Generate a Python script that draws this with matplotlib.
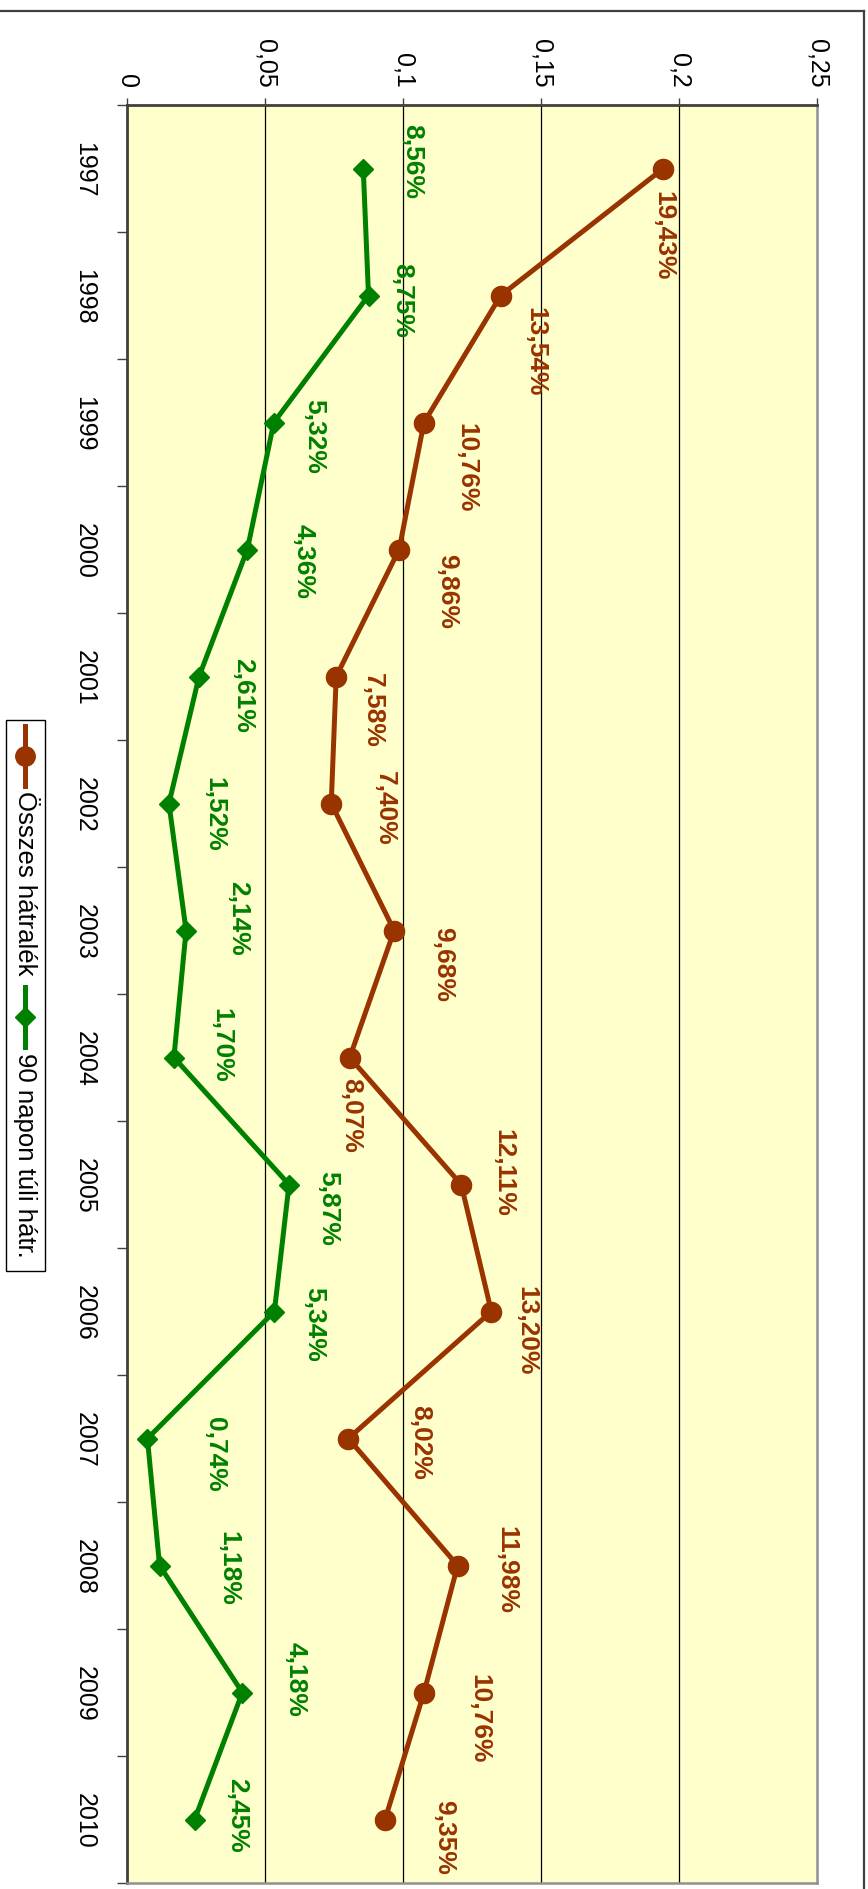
import numpy as np
import matplotlib
matplotlib.use('Agg')
import matplotlib.pyplot as plt
from matplotlib.lines import Line2D
from matplotlib.patches import Rectangle

plt.rcParams['font.family'] = ['Liberation Sans', 'DejaVu Sans']

years = ['1997', '1998', '1999', '2000', '2001', '2002', '2003',
         '2004', '2005', '2006', '2007', '2008', '2009', '2010']
total = [0.1943, 0.1354, 0.1076, 0.0986, 0.0758, 0.0740, 0.0968,
         0.0807, 0.1211, 0.1320, 0.0802, 0.1198, 0.1076, 0.0935]
over90 = [0.0856, 0.0875, 0.0532, 0.0436, 0.0261, 0.0152, 0.0214,
          0.0170, 0.0587, 0.0534, 0.0074, 0.0118, 0.0418, 0.0245]
value_ticks = [0, 0.05, 0.1, 0.15, 0.2, 0.25]
value_tick_labels = ['0', '0,05', '0,1', '0,15', '0,2', '0,25']
series_names = ['Összes hátralék', '90 napon túli hátr.']

# label offsets from the point, in pixels (right, down)
total_offsets = [(0, 66), (35, 55), (42, 44), (48, 41), (37, 33), (54, 4), (49, 33),
                 (1, 57), (42, -13), (35, 18), (72, 3), (49, 4), (55, 25), (59, 17)]
over90_offsets = [(49, -8), (34, 4), (40, 13), (56, 11), (44, 18), (45, 10), (52, -13),
                  (47, -13), (39, 23), (40, 12), (68, 15), (69, 2), (53, -14), (43, -5)]

brown = '#993300'
green = '#008000'
W, H = 868, 1890


def fx(x):
    return x / W


def fy(y):
    return 1 - y / H


def pct(v):
    return f'{v * 100:.2f}'.replace('.', ',') + '%'


fig = plt.figure(figsize=(W / 100, H / 100), dpi=100)
ax = fig.add_axes([fx(127), fy(1884), (817 - 127) / W, (1884 - 106) / H])
ax.set_facecolor('#FFFFCC')

idx = np.arange(len(years))
ax.plot(total, idx, color=brown, lw=3.6, marker='o', ms=14.5, zorder=3, clip_on=False)
ax.plot(over90, idx, color=green, lw=3.6, marker='D', ms=10.5, zorder=3, clip_on=False)

for vals, offs, col in [(total, total_offsets, brown), (over90, over90_offsets, green)]:
    for i, (v, (dx, dy)) in enumerate(zip(vals, offs)):
        ax.annotate(pct(v), (v, i), xytext=(dx, -dy), textcoords='offset pixels',
                    rotation=-90, ha='center', va='center', color=col,
                    fontsize=19, fontweight='bold', zorder=4)

for v in value_ticks[1:-1]:
    ax.axvline(v, color='black', lw=0.9, zorder=1)

ax.set_xlim(0, 0.25)
ax.set_ylim(13.5, -0.5)

ax.xaxis.tick_top()
ax.set_xticks(value_ticks)
ax.set_xticklabels(value_tick_labels, rotation=-90)
ax.tick_params(axis='x', which='major', length=5, width=1, color='#404040',
               pad=8, labelsize=18)

ax.set_yticks(idx)
ax.set_yticklabels(years, rotation=-90, va='center')
ax.set_yticks(np.arange(-0.5, 14, 1), minor=True)
ax.tick_params(axis='y', which='major', length=0, pad=22, labelsize=18)
ax.tick_params(axis='y', which='minor', length=7, width=1, color='#404040')

for side in ['top', 'left']:
    ax.spines[side].set_color('#404040')
    ax.spines[side].set_linewidth(2)
for side in ['right', 'bottom']:
    ax.spines[side].set_color('#909090')
    ax.spines[side].set_linewidth(1.8)

# chart frame
fig.add_artist(Line2D([fx(0), fx(864)], [fy(12), fy(12)], color='#404040', lw=1.6))
fig.add_artist(Line2D([fx(864), fx(864)], [fy(12), fy(H)], color='#404040', lw=1.6))

# legend, drawn sideways
fig.add_artist(Rectangle((fx(6), fy(1272)), (45 - 6) / W, (1272 - 721) / H,
                         transform=fig.transFigure, facecolor='white',
                         edgecolor='black', lw=1))
legend_items = [(brown, 'o', 14, 727, 787, 791),
                (green, 'D', 10, 988, 1048, 1053)]
for (col, mk, ms, y0, y1, ty), name in zip(legend_items, series_names):
    fig.add_artist(Line2D([fx(25), fx(25)], [fy(y0), fy(y1)], color=col, lw=3.6))
    fig.add_artist(Line2D([fx(25)], [fy((y0 + y1) / 2)], color=col, marker=mk, ms=ms))
    fig.text(fx(25), fy(ty), name, rotation=-90, ha='center', va='top', fontsize=18.5)

fig.savefig('out.png', dpi=100, facecolor='white')
